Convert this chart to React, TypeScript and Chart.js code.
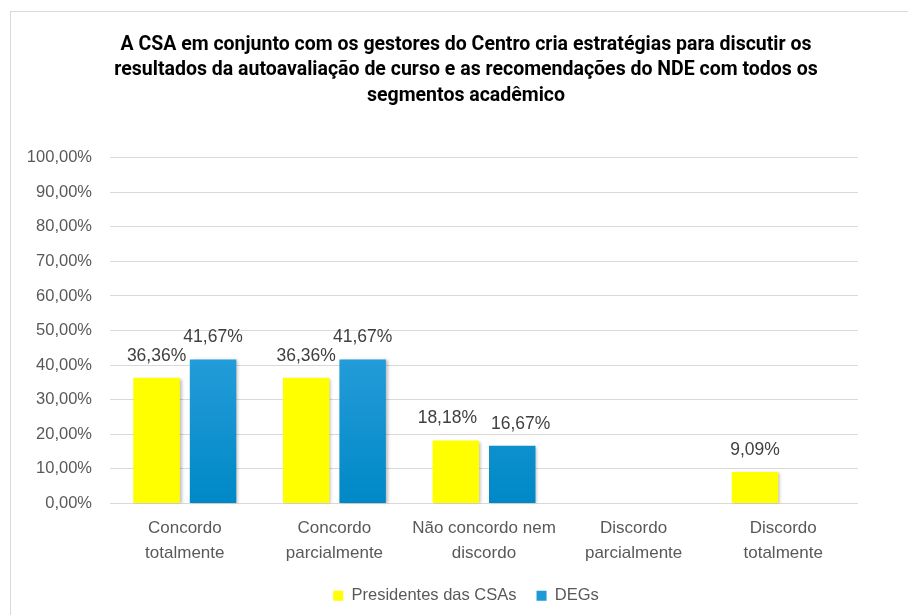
import React, { useEffect, useRef } from "react";
import { Chart, registerables } from "chart.js";

Chart.register(...registerables);

const titleLines = [
  "A CSA em conjunto com os gestores do Centro cria estratégias para discutir os",
  "resultados da autoavaliação de curso e as recomendações do NDE com todos os",
  "segmentos acadêmico",
];
const categories = [
  ["Concordo", "totalmente"],
  ["Concordo", "parcialmente"],
  ["Não concordo nem", "discordo"],
  ["Discordo", "parcialmente"],
  ["Discordo", "totalmente"],
];
const seriesNames = ["Presidentes das CSAs", "DEGs"];
const presidentes = [36.36, 36.36, 18.18, 0, 9.09];
const degs = [41.67, 41.67, 16.67, 0, 0];

const fmt = (v: number) => v.toFixed(2).replace(".", ",") + "%";
const TEXT = "#595959";
const FONT = "'Liberation Sans', Arial, sans-serif";

const blueGradient = (ctx: any) => {
  const chart = ctx.chart;
  const area = chart.chartArea;
  if (!area) return "#1a9ad6";
  const g = chart.ctx.createLinearGradient(0, area.top, 0, area.bottom);
  g.addColorStop(0, "#4aaee2");
  g.addColorStop(0.5, "#2aa0dc");
  g.addColorStop(1, "#0088c6");
  return g;
};

const shadowPlugin = {
  id: "barShadow",
  beforeDatasetDraw(chart: any) {
    const c = chart.ctx;
    c.save();
    c.shadowColor = "rgba(0,0,0,0.25)";
    c.shadowBlur = 3;
    c.shadowOffsetX = 2;
    c.shadowOffsetY = 1;
  },
  afterDatasetDraw(chart: any) {
    chart.ctx.restore();
  },
};

const labelPlugin = {
  id: "valueLabels",
  afterDatasetsDraw(chart: any) {
    const c = chart.ctx;
    c.save();
    c.font = `17.5px ${FONT}`;
    c.fillStyle = "#404040";
    c.textAlign = "center";
    c.textBaseline = "middle";
    const n = chart.data.labels.length;
    for (let i = 0; i < n; i++) {
      const items: any[] = [];
      chart.data.datasets.forEach((ds: any, di: number) => {
        const v = ds.data[i];
        if (!v) return;
        const bar = chart.getDatasetMeta(di).data[i];
        const text = fmt(v);
        items.push({ text, x: bar.x, y: bar.y - 22, w: c.measureText(text).width });
      });
      if (items.length === 2) {
        const [a, b] = items;
        const vertOverlap = Math.abs(a.y - b.y) < 16;
        const need = (a.w + b.w) / 2 + 14;
        const dist = b.x - a.x;
        if (vertOverlap && dist < need) {
          const shift = (need - dist) / 2;
          a.x -= shift;
          b.x += shift;
        }
      }
      items.forEach((it) => c.fillText(it.text, it.x, it.y));
    }
    c.restore();
  },
};

export default function App() {
  const ref = useRef<HTMLCanvasElement>(null);
  useEffect(() => {
    document.body.style.margin = "0";
    const chart = new Chart(ref.current!, {
      type: "bar",
      data: {
        labels: categories as any,
        datasets: [
          {
            label: seriesNames[0],
            data: presidentes,
            backgroundColor: "#FFFF00",
            barPercentage: 0.823,
            categoryPercentage: 0.755,
          },
          {
            label: seriesNames[1],
            data: degs,
            backgroundColor: blueGradient as any,
            barPercentage: 0.823,
            categoryPercentage: 0.755,
          },
        ],
      },
      options: {
        animation: false,
        responsive: false,
        layout: { padding: { top: 32, right: -24, bottom: 1, left: 0 } },
        plugins: {
          title: {
            display: true,
            text: titleLines,
            color: "#000000",
            font: { family: "Roboto, sans-serif", size: 19.5, weight: "bold", lineHeight: 1.31 },
            padding: { top: 0, bottom: 49 },
          },
          legend: {
            position: "bottom",
            labels: {
              color: TEXT,
              font: { family: FONT, size: 16.5 },
              boxWidth: 10,
              boxHeight: 10,
              padding: 20,
              generateLabels: (ch: any) =>
                ch.data.datasets.map((ds: any, i: number) => ({
                  text: ds.label,
                  fillStyle: i === 0 ? "#FFFF00" : "#1a9ad6",
                  strokeStyle: "rgba(0,0,0,0)",
                  lineWidth: 0,
                  fontColor: TEXT,
                  datasetIndex: i,
                })),
            },
          },
          tooltip: { enabled: false },
        },
        scales: {
          x: {
            grid: { display: false, drawTicks: false },
            border: { display: false },
            ticks: { color: TEXT, font: { family: FONT, size: 17, lineHeight: 1.47 }, padding: 12, maxRotation: 0, autoSkip: false },
            afterFit: (axis: any) => { axis.height = 64; },
          },
          y: {
            min: 0,
            max: 100,
            grid: { color: "#d9d9d9", lineWidth: 1, drawTicks: false },
            border: { display: false },
            ticks: {
              stepSize: 10,
              color: TEXT,
              font: { family: FONT, size: 16.5 },
              padding: 18,
              callback: (v: any) => fmt(Number(v)),
            },
            afterFit: (axis: any) => { axis.width = 110; },
          },
          spacer: {
            type: "linear",
            position: "right",
            display: true,
            grid: { display: false, drawTicks: false },
            border: { display: false },
            ticks: { display: false },
            afterFit: (axis: any) => { axis.width = 74; },
          },
        },
      },
      plugins: [shadowPlugin, labelPlugin],
    });
    return () => chart.destroy();
  }, []);
  return (
    <div style={{ position: "relative", width: 908, height: 615, overflow: "hidden", background: "#fff" }}>
      <div style={{ position: "absolute", left: 10, top: 11, width: 1000, height: 800, border: "1px solid #d9d9d9" }} />
      <canvas ref={ref} width={908} height={615} style={{ position: "absolute", left: 0, top: 0 }} />
    </div>
  );
}
